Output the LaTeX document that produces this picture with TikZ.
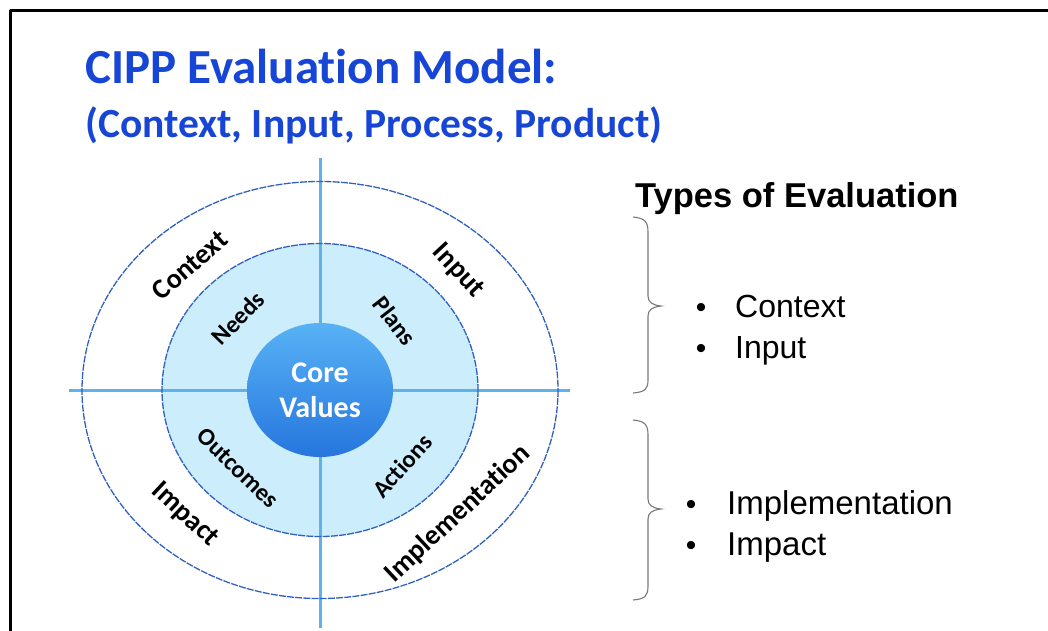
\documentclass[tikz,border=0pt]{standalone}
\usepackage{fontspec}
\setmainfont{Carlito}[Ligatures=NoCommon]
\newfontfamily\arialf{Liberation Sans}
\usetikzlibrary{shapes.geometric}
\definecolor{titleblue}{RGB}{23,70,214}
\definecolor{axisblue}{RGB}{92,179,236}
\definecolor{ringblue}{RGB}{48,96,192}
\definecolor{ringfill}{RGB}{204,238,252}
\definecolor{coretop}{RGB}{88,178,245}
\definecolor{corebot}{RGB}{38,118,222}
\definecolor{bracegray}{RGB}{120,120,120}
\tikzset{
  ring/.style={draw=ringblue, line width=1.3pt, dash pattern=on 7pt off 1.2pt},
  axis/.style={draw=axisblue, line width=3pt},
  outerlbl/.style={font=\bfseries\fontsize{28}{30}\selectfont, inner sep=0pt},
  innerlbl/.style={font=\bfseries\fontsize{24.5}{28}\selectfont, inner sep=0pt},
  rtxt/.style={font=\arialf\fontsize{32}{36}\selectfont, anchor=base west, inner sep=0pt},
  rtxtb/.style={font=\arialf\fontsize{33}{36}\selectfont, anchor=base west, inner sep=0pt},
  bul/.style={font=\arialf\fontsize{30}{32}\selectfont, anchor=base, inner sep=0pt},
  bracestyle/.style={draw=bracegray, line width=1.1pt},
}
\begin{document}
\begin{tikzpicture}[x=1pt,y=-1pt]
\useasboundingbox (0,0) rectangle (1048,630);
% frame
\draw[line width=3pt, line join=round] (10.5,632) -- (10.5,10.5) -- (1050,10.5);
% title
\node[anchor=base west, inner sep=0pt, text=titleblue, font=\bfseries\fontsize{49}{56}\selectfont] (title) at (85,83) {CIPP Evaluation Model:};
\node[anchor=base west, inner sep=0pt, text=titleblue, font=\bfseries\fontsize{41.5}{46}\selectfont] (subtitle) at (85,137) {(Context, Input, Process, Product)};
% diagram
\coordinate (c) at (320,390);
\fill[ringfill] (c) ellipse [x radius=158, y radius=146.5];
\coordinate (hl) at (69,390);
\coordinate (hr) at (570,390);
\coordinate (vt) at (320,158);
\coordinate (vb) at (320,628);
\draw[axis] (hl) -- (hr);
\draw[axis] (vt) -- (vb);
\draw[ring] (c) ellipse [x radius=238, y radius=208.5];
\draw[ring] (c) ellipse [x radius=158, y radius=146.5];
\node[ellipse, minimum width=146pt, minimum height=134pt, top color=coretop, bottom color=corebot, draw=none, text=white, align=center, font=\bfseries\fontsize{30}{35}\selectfont] (core) at (c) {Core\\Values};
% outer labels
\node[outerlbl, rotate=41] (lctx) at (190,265) {Context};
\node[outerlbl, rotate=-47] (linp) at (458,271) {Input};
\node[outerlbl, rotate=-43] (limpa) at (185,515) {Impact};
\node[outerlbl, rotate=43] (limpl) at (458,514) {Implementation};
% inner labels
\node[innerlbl, rotate=46] (lneeds) at (238,318) {Needs};
\node[innerlbl, rotate=-52] (lplans) at (395,321) {Plans};
\node[innerlbl, rotate=-44] (lout) at (238,468) {Outcomes};
\node[innerlbl, rotate=48] (lact) at (402,466) {Actions};
% right side
\node[anchor=base west, inner sep=0pt, font=\arialf\bfseries\fontsize{34.5}{40}\selectfont] (types) at (635,207) {Types of Evaluation};
\draw[bracestyle] (633,217) .. controls (645,218) and (648,222) .. (648,232) -- (648,296) .. controls (648,302) and (652,305) .. (661,306) .. controls (652,307) and (648,310) .. (648,316) -- (648,380) .. controls (648,389) and (645,392) .. (633,393);
\draw[bracestyle] (633,420) .. controls (645,421) and (648,425) .. (648,435) -- (648,499) .. controls (648,505) and (652,508) .. (661,509) .. controls (652,510) and (648,513) .. (648,519) -- (648,586) .. controls (648,596) and (645,599) .. (633,600);
\node[bul] (b1) at (701,317) {•};
\node[rtxt] (t1) at (735,317) {Context};
\node[bul] (b2) at (701,358) {•};
\node[rtxt] (t2) at (735,358) {Input};
\node[bul] (b3) at (691,514) {•};
\node[rtxtb] (t3) at (727,514) {Implementation};
\node[bul] (b4) at (691,555) {•};
\node[rtxtb] (t4) at (727,555) {Impact};
\end{tikzpicture}
\end{document}
